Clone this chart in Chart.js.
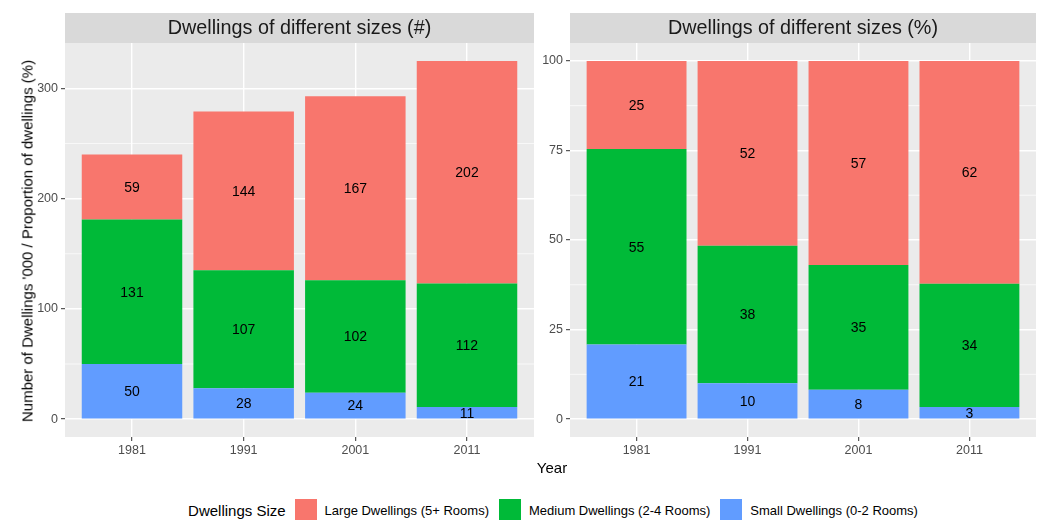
<!DOCTYPE html>
<html>
<head>
<meta charset="utf-8">
<title>Dwellings of different sizes</title>
<script src="https://cdn.jsdelivr.net/npm/chart.js@4.4.1/dist/chart.umd.min.js"></script>
<style>
    html, body { margin: 0; padding: 0; background: #fff; }
    body { font-family: "Liberation Sans", Arial, sans-serif; }
    #figure { position: relative; width: 1046px; height: 520px; overflow: hidden; }
    .panel { position: absolute; top: 0; }
    #countPanel { left: 0; }
    #sharePanel { left: 536px; }
    .axis-title { position: absolute; color: #000; font-size: 15px; white-space: nowrap; }
    #yTitle { left: 27px; top: 241px; transform: translate(-50%, -50%) rotate(-90deg); }
    #xTitle { left: 552px; top: 467px; transform: translate(-50%, -50%); }
    #legend {
        position: absolute; left: 60px; right: 0; top: 499px; height: 22px;
        display: flex; justify-content: center; align-items: center;
        font-size: 13px; color: #000;
    }
    #legend .title { font-size: 15px; margin-right: 9px; }
    #legend .item { display: flex; align-items: center; margin-right: 10px; }
    #legend .item:last-child { margin-right: 0; }
    #legend .key { width: 22px; height: 22px; margin-right: 8px; }
</style>
</head>
<body>
<div id="figure">
    <canvas id="countPanel" class="panel" width="536" height="470"></canvas>
    <canvas id="sharePanel" class="panel" width="510" height="470"></canvas>
    <div id="yTitle" class="axis-title">Number of Dwellings '000 / Proportion of dwellings (%)</div>
    <div id="xTitle" class="axis-title">Year</div>
    <div id="legend"><span class="title">Dwellings Size</span></div>
</div>
<script>
const years = ['1981', '1991', '2001', '2011'];

const smallCount = [50, 28, 24, 11];
const mediumCount = [131, 107, 102, 112];
const largeCount = [59, 144, 167, 202];

const smallShare = [20.8, 10.0, 8.2, 3.4];
const mediumShare = [54.6, 38.4, 34.8, 34.4];
const largeShare = [24.6, 51.6, 57.0, 62.2];

const countTicks = [0, 100, 200, 300];
const countMinorTicks = [50, 150, 250];
const shareTicks = [0, 25, 50, 75, 100];
const shareMinorTicks = [12.5, 37.5, 62.5, 87.5];

const sizeNames = {
    large: 'Large Dwellings (5+ Rooms)',
    medium: 'Medium Dwellings (2-4 Rooms)',
    small: 'Small Dwellings (0-2 Rooms)',
};
const sizeColors = { large: '#F8766D', medium: '#00BA38', small: '#619CFF' };

const FONT = '"Liberation Sans", Arial, sans-serif';
const STRIP_TOP = 13;
Chart.defaults.font.family = FONT;

// ggplot-like panel: grey background, strip on top, minor grid, value labels
const panelDecor = {
    id: 'panelDecor',
    beforeDraw(chart, args, opts) {
        const { ctx, chartArea: a } = chart;
        ctx.save();
        ctx.fillStyle = '#EBEBEB';
        ctx.fillRect(a.left, a.top, a.right - a.left, a.bottom - a.top);
        ctx.fillStyle = '#D9D9D9';
        ctx.fillRect(a.left, STRIP_TOP, a.right - a.left, a.top - STRIP_TOP);
        ctx.fillStyle = '#1A1A1A';
        ctx.font = `19.8px ${FONT}`;
        ctx.textAlign = 'center';
        ctx.textBaseline = 'middle';
        ctx.fillText(opts.title, (a.left + a.right) / 2, (STRIP_TOP + a.top) / 2 + 1);
        ctx.restore();
    },
    beforeDatasetsDraw(chart, args, opts) {
        const { ctx, chartArea: a, scales } = chart;
        ctx.save();
        ctx.strokeStyle = '#FFFFFF';
        ctx.lineWidth = 0.7;
        opts.minorTicks.forEach((value) => {
            const y = scales.y.getPixelForValue(value);
            ctx.beginPath();
            ctx.moveTo(a.left, y);
            ctx.lineTo(a.right, y);
            ctx.stroke();
        });
        ctx.restore();
    },
    afterDatasetsDraw(chart) {
        const { ctx } = chart;
        ctx.save();
        ctx.fillStyle = '#000000';
        ctx.font = `14px ${FONT}`;
        ctx.textAlign = 'center';
        ctx.textBaseline = 'middle';
        chart.data.datasets.forEach((dataset, i) => {
            chart.getDatasetMeta(i).data.forEach((bar, j) => {
                const value = dataset.data[j].y;
                ctx.fillText(String(Math.round(value)), bar.x, (bar.y + bar.base) / 2 + 1);
            });
        });
        ctx.restore();
    },
};

function toPoints(values) {
    return values.map((value, i) => ({ x: i, y: value }));
}

function buildDataset(key, values) {
    return {
        label: sizeNames[key],
        data: toPoints(values),
        backgroundColor: sizeColors[key],
        borderWidth: 0,
        categoryPercentage: 0.9,
        barPercentage: 1.0,
    };
}

function buildPanel(canvasId, cfg) {
    const gridStyle = {
        color: '#FFFFFF',
        lineWidth: 1.4,
        tickLength: 4,
        tickColor: '#333333',
        tickWidth: 1,
        offset: false,
    };

    return new Chart(document.getElementById(canvasId), {
        type: 'bar',
        data: {
            datasets: [
                buildDataset('small', cfg.small),
                buildDataset('medium', cfg.medium),
                buildDataset('large', cfg.large),
            ],
        },
        plugins: [panelDecor],
        options: {
            responsive: false,
            animation: false,
            layout: { padding: { top: 43, right: cfg.padRight, left: 0, bottom: 0 } },
            plugins: {
                legend: { display: false },
                tooltip: { enabled: false },
                panelDecor: { title: cfg.title, minorTicks: cfg.minorTicks },
            },
            scales: {
                x: {
                    type: 'linear',
                    stacked: true,
                    offset: false,
                    min: -0.6,
                    max: 3.6,
                    afterBuildTicks: (scale) => {
                        scale.ticks = years.map((_, i) => ({ value: i }));
                    },
                    afterFit: (scale) => {
                        scale.height = 33;
                    },
                    ticks: {
                        callback: (value) => years[value],
                        color: '#4D4D4D',
                        font: { size: 12.5 },
                        padding: 2,
                        maxRotation: 0,
                        autoSkip: false,
                    },
                    grid: gridStyle,
                    border: { display: false },
                },
                y: {
                    stacked: true,
                    min: cfg.min,
                    max: cfg.max,
                    afterBuildTicks: (scale) => {
                        scale.ticks = cfg.ticks.map((value) => ({ value }));
                    },
                    afterFit: (scale) => {
                        scale.width = cfg.axisWidth;
                    },
                    ticks: {
                        color: '#4D4D4D',
                        font: { size: 12.5 },
                        padding: 3,
                    },
                    grid: gridStyle,
                    border: { display: false },
                },
            },
        },
    });
}

buildPanel('countPanel', {
    title: 'Dwellings of different sizes (#)',
    small: smallCount,
    medium: mediumCount,
    large: largeCount,
    ticks: countTicks,
    minorTicks: countMinorTicks,
    min: -16.25,
    max: 341.25,
    axisWidth: 65,
    padRight: 2,
});

buildPanel('sharePanel', {
    title: 'Dwellings of different sizes (%)',
    small: smallShare,
    medium: mediumShare,
    large: largeShare,
    ticks: shareTicks,
    minorTicks: shareMinorTicks,
    min: -5,
    max: 105,
    axisWidth: 34,
    padRight: 10,
});

// shared legend, ordered as in the reference
const legend = document.getElementById('legend');
['large', 'medium', 'small'].forEach((key) => {
    const item = document.createElement('span');
    item.className = 'item';
    const swatch = document.createElement('span');
    swatch.className = 'key';
    swatch.style.background = sizeColors[key];
    item.appendChild(swatch);
    item.appendChild(document.createTextNode(sizeNames[key]));
    legend.appendChild(item);
});
</script>
</body>
</html>
